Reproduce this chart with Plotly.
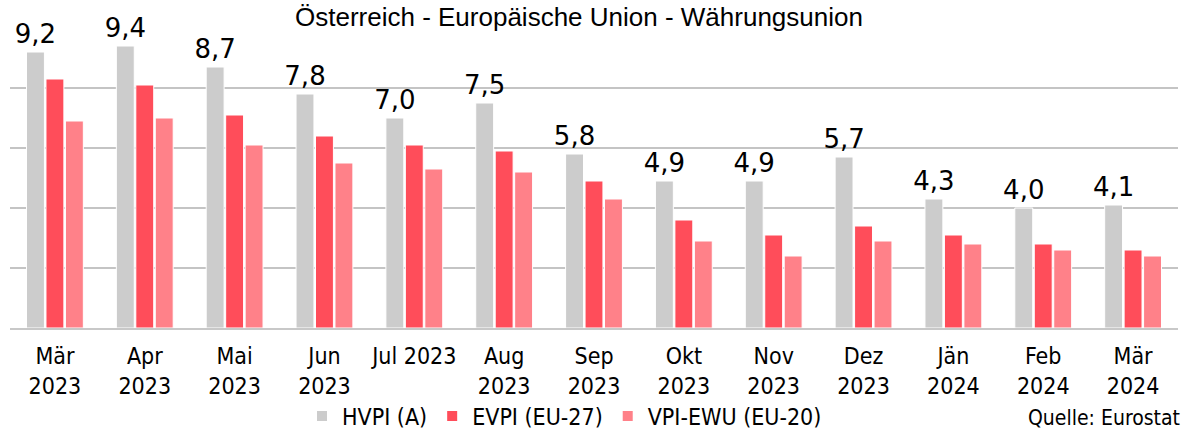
import plotly.graph_objects as go

categories = ["Mär<br>2023", "Apr<br>2023", "Mai<br>2023", "Jun<br>2023", "Jul 2023",
              "Aug<br>2023", "Sep<br>2023", "Okt<br>2023", "Nov<br>2023", "Dez<br>2023",
              "Jän<br>2024", "Feb<br>2024", "Mär<br>2024"]
hvpi = [9.2, 9.4, 8.7, 7.8, 7.0, 7.5, 5.8, 4.9, 4.9, 5.7, 4.3, 4.0, 4.1]
evpi = [8.3, 8.1, 7.1, 6.4, 6.1, 5.9, 4.9, 3.6, 3.1, 3.4, 3.1, 2.8, 2.6]
ewu = [6.9, 7.0, 6.1, 5.5, 5.3, 5.2, 4.3, 2.9, 2.4, 2.9, 2.8, 2.6, 2.4]
hvpi_labels = [f"{v:.1f}".replace(".", ",") for v in hvpi]

FONT = "DejaVu Sans Condensed, DejaVu Sans, sans-serif"

fig = go.Figure()
fig.add_trace(go.Bar(x=categories, y=hvpi, name="HVPI (A)", marker_color="#cccccc",
                     marker_line=dict(color="white", width=1),
                     text=hvpi_labels, textposition="outside", cliponaxis=False,
                     constraintext="none",
                     textfont=dict(size=26, color="black", family="DejaVu Sans, sans-serif")))
fig.add_trace(go.Bar(x=categories, y=evpi, name="EVPI (EU-27)", marker_color="#ff4d5a",
                     marker_line=dict(color="white", width=1)))
fig.add_trace(go.Bar(x=categories, y=ewu, name="VPI-EWU (EU-20)", marker_color="#ff8189",
                     marker_line=dict(color="white", width=1)))

fig.update_layout(
    width=1188, height=432,
    margin=dict(l=10, r=10, t=28, b=104, autoexpand=False),
    plot_bgcolor="white", paper_bgcolor="white",
    barmode="group", bargap=0.35, bargroupgap=0.08,
    font=dict(family=FONT, size=23, color="black"),
    showlegend=True,
    legend=dict(orientation="h", x=0.25, y=-0.2933, xanchor="left", yanchor="middle",
                bgcolor="rgba(0,0,0,0)",
                font=dict(size=23, family=FONT), itemsizing="constant",
                traceorder="normal", itemwidth=30),
    xaxis=dict(showgrid=False, showline=True, linecolor="#c8c8c8", linewidth=2,
               ticks="", ticklabelstandoff=6, tickfont=dict(size=23, family=FONT)),
    yaxis=dict(range=[0, 10], dtick=2, showticklabels=False, showgrid=True,
               gridcolor="#c4c4c4", gridwidth=1.5, zeroline=False, showline=False),
)
fig.add_annotation(text="Österreich - Europäische Union - Währungsunion", xref="paper", yref="paper",
                   x=0.487, y=1.0 + 28 / 300, xanchor="center", yanchor="top", showarrow=False,
                   font=dict(size=26, family="Liberation Sans, Arial, sans-serif"))
fig.add_annotation(text="Quelle: Eurostat", xref="paper", yref="paper",
                   x=1.0 + 4 / 1168, y=-0.3, xanchor="right", yanchor="middle", showarrow=False,
                   font=dict(size=21, family=FONT))

fig.write_html("out.html", config={"displayModeBar": False},
               post_script="document.body.style.margin='0';document.body.style.overflow='hidden';")
